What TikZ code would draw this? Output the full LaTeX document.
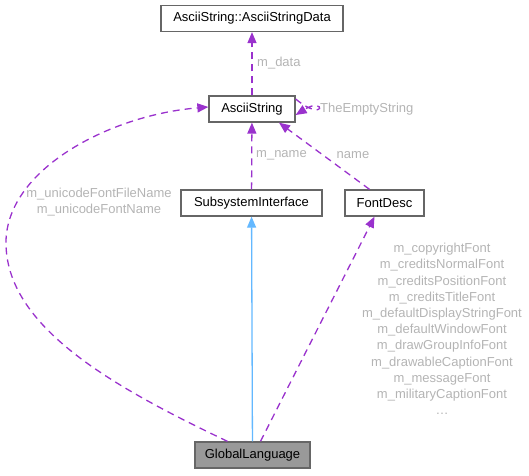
\documentclass[tikz,border=0pt]{standalone}
\usepackage{fontspec}
\setmainfont{Liberation Sans}
\usetikzlibrary{arrows.meta}
\definecolor{edgepurple}{HTML}{9A32CD}
\definecolor{inhblue}{HTML}{63B8FF}
\definecolor{lblgrey}{HTML}{B4B4B4}
\definecolor{boxborder}{HTML}{666666}
\definecolor{boxgrey}{HTML}{999999}
\tikzset{
  classbox/.style={draw=boxborder, line width=1.3pt, fill=white, rectangle, inner sep=0pt,
    minimum height=26pt, font=\fontsize{13}{16}\selectfont, text=black},
  dep/.style={draw=edgepurple, line width=1.3pt, dash pattern=on 7pt off 5pt,
    -{Triangle[length=11pt,width=9pt]}, edgepurple},
  inh/.style={draw=inhblue, line width=1.3pt, -{Triangle[length=11pt,width=9pt,fill=inhblue]}},
  lbl/.style={text=lblgrey, font=\fontsize{13}{16.2}\selectfont, inner sep=0pt},
}
\begin{document}
\begin{tikzpicture}[x=1pt,y=-1pt]
\useasboundingbox (0,0) rectangle (529,475);
\node[classbox, minimum width=182pt] (data) at (252,18.5) {AsciiString::AsciiStringData};
\node[classbox, minimum width=86pt] (asc) at (252,109) {AsciiString};
\node[classbox, minimum width=141pt] (sub) at (251.5,203) {SubsystemInterface};
\node[classbox, minimum width=79pt] (font) at (384.5,203) {FontDesc};
\node[classbox, minimum width=115pt, fill=boxgrey] (gl) at (252.5,455) {GlobalLanguage};

\draw[dep] (asc) -- (data);
\node[lbl, anchor=west] (ldata) at (257,63) {m\_data};

\draw[dep] ([yshift=10pt]asc.east) .. controls (326,124) and (326,96) .. ([yshift=-6pt]asc.east);
\node[lbl, anchor=west] (lempty) at (320,109) {TheEmptyString};

\draw[dep] (sub) -- (asc);
\node[lbl, anchor=west] (lname) at (256,155) {m\_name};

\draw[dep] ([xshift=-15pt]font.north) -- ([xshift=27pt]asc.south);
\node[lbl] (lname2) at (353,155) {name};

\draw[inh] (gl) -- (sub);

\draw[dep] ([xshift=8pt]gl.north) -- ([xshift=-10pt]font.south);
\node[lbl, align=center] (lfonts) at (442,329) {m\_copyrightFont\\m\_creditsNormalFont\\m\_creditsPositionFont\\m\_creditsTitleFont\\m\_defaultDisplayStringFont\\m\_defaultWindowFont\\m\_drawGroupInfoFont\\m\_drawableCaptionFont\\m\_messageFont\\m\_militaryCaptionFont\\\dots};

\draw[dep] ([xshift=-25pt]gl.north) .. controls (120,390) and (8,330) .. (6,245)
  .. controls (4,170) and (110,115) .. ([yshift=2pt]asc.west);
\node[lbl, align=center] (luni) at (99,202) {m\_unicodeFontFileName\\m\_unicodeFontName};
\end{tikzpicture}
\end{document}
